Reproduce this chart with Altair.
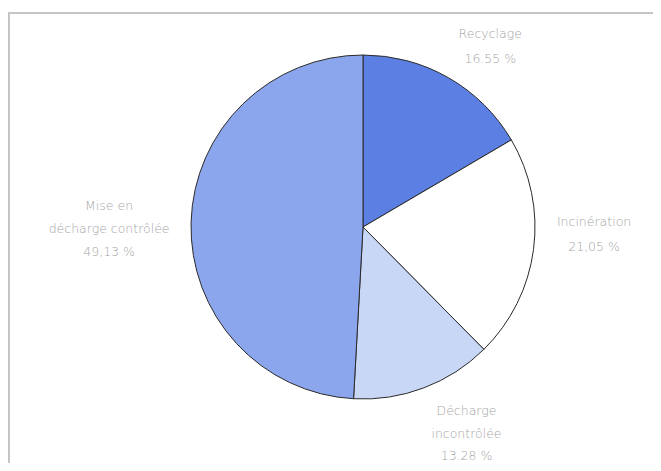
import altair as alt
import pandas as pd
import math

# --- data ---
categories = ["Recyclage", "Incinération", "Décharge incontrôlée", "Mise en décharge contrôlée"]
values = [16.55, 21.05, 13.28, 49.13]
label_lines = ["Recyclage", "Incinération", "Décharge\nincontrôlée", "Mise en\ndécharge contrôlée"]
pct_labels = ["16.55 %", "21,05 %", "13.28 %", "49,13 %"]
colors = ["#5b7fe3", "#ffffff", "#c8d7f5", "#8ca6ee"]

df = pd.DataFrame({
    "cat": categories,
    "value": values,
    "idx": list(range(len(categories))),
    "label": [l + "\n" + p for l, p in zip(label_lines, pct_labels)],
})
total = sum(values)

W, H = 645, 455
CX, CY = 355, 219
R = 172
LR = 230

arcs = alt.Chart(df).mark_arc(stroke="#2a2a2a", strokeWidth=1, outerRadius=R).encode(
    theta=alt.Theta("value:Q", stack=True),
    order=alt.Order("idx:Q"),
    color=alt.Color("cat:N", scale=alt.Scale(domain=categories, range=colors), legend=None),
    x=alt.value(CX),
    y=alt.value(CY),
)

# label nudges (dx, dy) and line heights per label
offsets = [(13, 7, 25), (3, -35, 25), (22, -31, 22.5), (-24, -15, 23)]
text_layers = []
for i, (ddx, ddy, lh) in enumerate(offsets):
    t = (
        alt.Chart(df)
        .transform_window(cum="sum(value)", sort=[alt.SortField("idx")])
        .transform_calculate(mid="datum.cum - datum.value / 2")
        .transform_filter(alt.datum.idx == i)
        .mark_text(
            lineBreak="\n", lineHeight=lh, font="DejaVu Sans", fontSize=12.5,
            fontWeight=300, color="#a6a6a6", align="center", baseline="middle",
            dx=ddx, dy=ddy,
        )
        .encode(
            theta=alt.Theta("mid:Q", stack=False,
                            scale=alt.Scale(domain=[0, total], range=[0, 2 * math.pi])),
            radius=alt.value(LR),
            text="label:N",
            x=alt.value(CX),
            y=alt.value(CY),
        )
    )
    text_layers.append(t)

frame_top = alt.Chart(df).mark_rule(color="#c4c4c4", strokeWidth=1.5).encode(
    x=alt.value(0), x2=alt.value(W), y=alt.value(5)
)
frame_left = alt.Chart(df).mark_rule(color="#c4c4c4", strokeWidth=1.5).encode(
    x=alt.value(0.75), y=alt.value(5), y2=alt.value(H)
)

chart = (
    alt.layer(frame_top, frame_left, arcs, *text_layers)
    .resolve_scale(theta="independent")
    .properties(width=W, height=H, autosize=alt.AutoSizeParams(type="none"), padding=0,
                background="white")
    .configure_view(stroke=None)
)

chart.save("out.html", embed_options={"renderer": "svg", "actions": False})
